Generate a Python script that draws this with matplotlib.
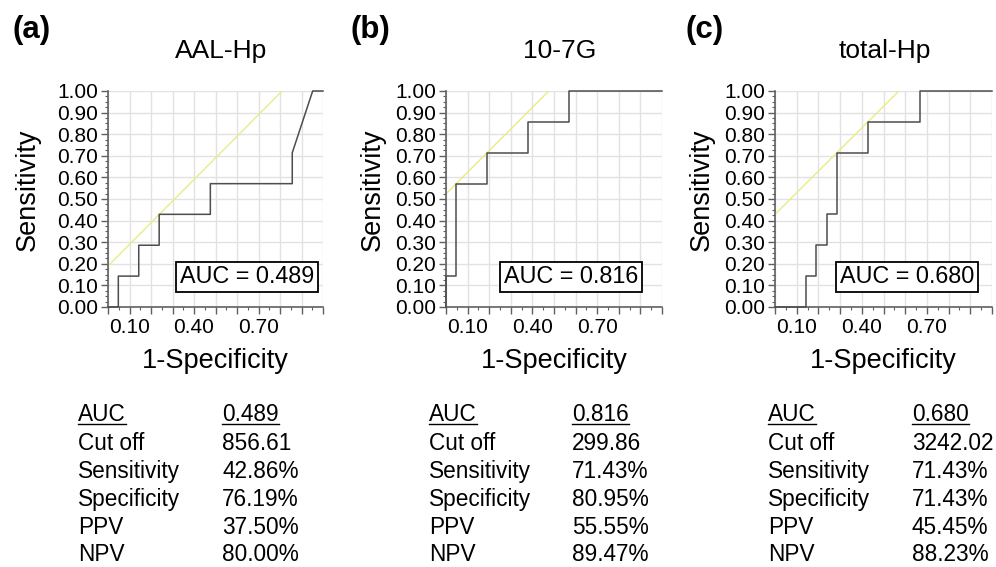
import matplotlib
matplotlib.use("Agg")
import matplotlib.pyplot as plt
from matplotlib.ticker import MultipleLocator, FixedLocator
from matplotlib.lines import Line2D

plt.rcParams['font.family'] = ['Liberation Sans', 'DejaVu Sans']

# data
panel_tags = ["(a)", "(b)", "(c)"]
markers = ["AAL-Hp", "10-7G", "total-Hp"]
auc_text = ["0.489", "0.816", "0.680"]

fpr_a = [0, 0.048, 0.048, 0.143, 0.143, 0.238, 0.238, 0.476, 0.476, 0.857, 0.857, 0.952, 1.0]
tpr_a = [0, 0, 0.143, 0.143, 0.286, 0.286, 0.429, 0.429, 0.571, 0.571, 0.714, 1.0, 1.0]

fpr_b = [0, 0, 0.048, 0.048, 0.190, 0.190, 0.381, 0.381, 0.571, 0.571, 1.0]
tpr_b = [0, 0.143, 0.143, 0.571, 0.571, 0.714, 0.714, 0.857, 0.857, 1.0, 1.0]

fpr_c = [0, 0.143, 0.143, 0.190, 0.190, 0.238, 0.238, 0.286, 0.286, 0.429, 0.429, 0.667, 0.667, 1.0]
tpr_c = [0, 0, 0.143, 0.143, 0.286, 0.286, 0.429, 0.429, 0.714, 0.714, 0.857, 0.857, 1.0, 1.0]

# tangent line at the cut-off (slope 1)
intercepts = [0.190, 0.524, 0.429]

row_names = ["AUC", "Cut off", "Sensitivity", "Specificity", "PPV", "NPV"]
vals_a = ["0.489", "856.61", "42.86%", "76.19%", "37.50%", "80.00%"]
vals_b = ["0.816", "299.86", "71.43%", "80.95%", "55.55%", "89.47%"]
vals_c = ["0.680", "3242.02", "71.43%", "71.43%", "45.45%", "88.23%"]

x_labels = ["", "0.10", "", "", "0.40", "", "", "0.70", "", "", ""]

W, H = 996, 567
fig = plt.figure(figsize=(W / 100, H / 100), dpi=100)


def fx(px):
    return px / W


def fy(py):
    return 1 - py / H


lefts = [108, 446, 775]
widths = [215, 216, 217]
top, bottom = 91, 307
tag_x = [12, 350, 685]
title_x = [221, 560, 885]
ylab_x = [28, 373, 702]
box_x = [0.647, 0.579, 0.608]
name_x = [78, 429, 768]
val_x = [222, 572, 912]
baselines = [421, 450, 478, 506, 534, 561]

curves = [(fpr_a, tpr_a), (fpr_b, tpr_b), (fpr_c, tpr_c)]
tables = [vals_a, vals_b, vals_c]

for i in range(3):
    ax = fig.add_axes([fx(lefts[i]), fy(bottom), fx(widths[i]), (bottom - top) / H])
    ax.set_xlim(0, 1)
    ax.set_ylim(0, 1)
    ax.xaxis.set_major_locator(FixedLocator([k / 10 for k in range(11)]))
    ax.set_xticklabels(x_labels)
    ax.xaxis.set_minor_locator(MultipleLocator(0.05))
    ax.yaxis.set_major_locator(FixedLocator([k / 10 for k in range(11)]))
    ax.set_yticklabels(["%.2f" % (k / 10) for k in range(11)])
    ax.yaxis.set_minor_locator(MultipleLocator(0.025))
    ax.grid(True, which='major', color='#e2e2e2', lw=1.0)
    ax.set_axisbelow(True)
    for s in ['top', 'right']:
        ax.spines[s].set_visible(False)
    for s in ['left', 'bottom']:
        ax.spines[s].set_color('#606060')
        ax.spines[s].set_linewidth(1.2)
    ax.tick_params(which='major', length=5, width=1, color='#606060', labelsize=15, pad=2)
    ax.tick_params(which='minor', length=2.5, width=0.8, color='#606060')
    ax.tick_params(axis='x', which='major', pad=3)

    b = intercepts[i]
    ax.plot([0, 1 - b], [b, 1], color='#ebeb85', lw=1.0, zorder=2)
    fpr, tpr = curves[i]
    ax.plot(fpr, tpr, color='#4d4d4d', lw=1.1, zorder=3, clip_on=False)

    ax.text(box_x[i], 0.141, "AUC = " + auc_text[i], transform=ax.transAxes,
            ha='center', va='center', fontsize=16.8, zorder=5,
            bbox=dict(boxstyle='square,pad=0.15', fc='white', ec='black', lw=1.3))

    # labels
    fig.text(fx(tag_x[i]), fy(30), panel_tags[i], fontsize=22.5, fontweight='bold',
             ha='left', va='center')
    fig.text(fx(title_x[i]), fy(51), markers[i], fontsize=19, ha='center', va='center')
    fig.text(fx(ylab_x[i]), fy(190), "Sensitivity", fontsize=19.5, rotation=90,
             ha='center', va='center')
    fig.text(fx(lefts[i] + widths[i] / 2), fy(361), "1-Specificity", fontsize=19.5,
             ha='center', va='center')

    # statistics table
    for r, name in enumerate(row_names):
        t1 = fig.text(fx(name_x[i]), fy(baselines[r]), name, fontsize=16.3,
                      ha='left', va='baseline')
        t2 = fig.text(fx(val_x[i]), fy(baselines[r]), tables[i][r], fontsize=16.3,
                      ha='left', va='baseline')
        if r == 0:
            fig.canvas.draw()
            for t in (t1, t2):
                bb = t.get_window_extent()
                fig.add_artist(Line2D([bb.x0 / W, bb.x1 / W], [fy(424), fy(424)],
                                      transform=fig.transFigure, color='black', lw=1.0))

fig.savefig("out.png", dpi=100)
